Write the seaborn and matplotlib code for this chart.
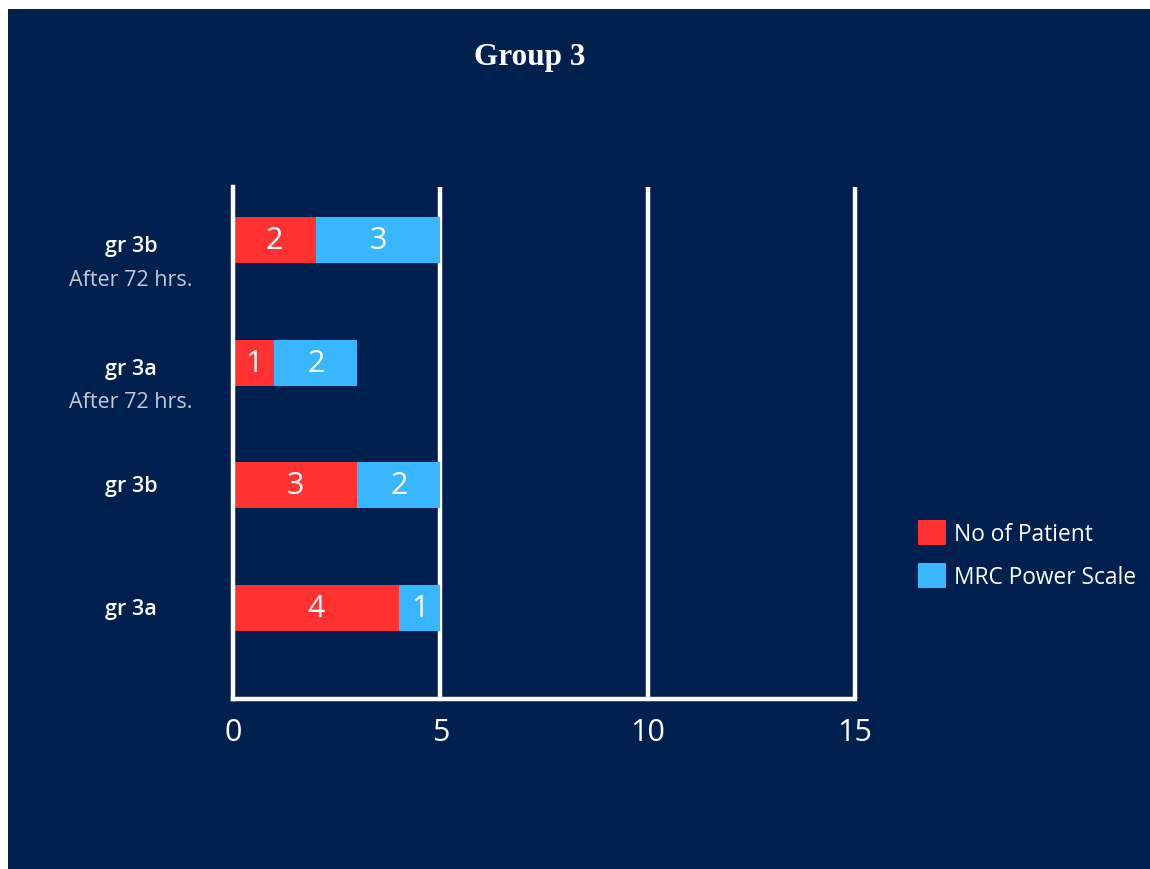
import matplotlib
matplotlib.use("Agg")
import matplotlib.pyplot as plt
from matplotlib.patches import Patch, Rectangle
import matplotlib.transforms as mtransforms
import pandas as pd
import seaborn as sns

# Data (top to bottom)
groups = ["gr 3b", "gr 3a", "gr 3b", "gr 3a"]
subtitles = ["After 72 hrs.", "After 72 hrs.", "", ""]
patients = [2, 1, 3, 4]
mrc_scale = [3, 2, 2, 1]
series_names = ["No of Patient", "MRC Power Scale"]
x_ticks = [0, 5, 10, 15]
title = "Group 3"

NAVY = "#00214f"
RED = "#ff3131"
BLUE = "#38b6ff"
WHITE = "#ffffff"
SUBTLE = "#c3c9d6"

sns.set_theme(style="white")
plt.rcParams["font.family"] = ["Open Sans", "DejaVu Sans"]

rows = [f"row{i}" for i in range(len(groups))]
df = pd.DataFrame({
    "row": rows,
    "patients": patients,
    "total": [p + m for p, m in zip(patients, mrc_scale)],
})

fig = plt.figure(figsize=(11.5, 8.7), dpi=100, facecolor="white")
# navy panel with thin white margin at the top and left
fig.patches.append(Rectangle((8 / 1150, 0), 1, 1 - 10 / 870,
                             transform=fig.transFigure, facecolor=NAVY,
                             edgecolor="none", zorder=-5))

ax = fig.add_axes([233 / 1150, 1 - 700 / 870, 622 / 1150, 512 / 870])
ax.set_facecolor(NAVY)
ax.patch.set_alpha(0)

# stacked horizontal bars: total in blue, patients in red on top
bar_kw = dict(orient="h", width=0.375, saturation=1, ax=ax,
              linewidth=0, edgecolor="none")
sns.barplot(data=df, x="total", y="row", order=rows, color=BLUE,
            zorder=2, **bar_kw)
sns.barplot(data=df, x="patients", y="row", order=rows, color=RED,
            zorder=3, **bar_kw)

ax.set_xlim(0, 15)
ax.set_ylim(3.74, -0.43)
ax.set_xlabel("")
ax.set_ylabel("")

# value labels centred in each segment
for i, (p, m) in enumerate(zip(patients, mrc_scale)):
    ax.text(p / 2, i, str(p), ha="center", va="center", color=WHITE,
            fontsize=22, zorder=5)
    ax.text(p + m / 2, i, str(m), ha="center", va="center", color=WHITE,
            fontsize=22, zorder=5)

# grid lines at 5, 10, 15
for xv in x_ticks[1:]:
    ax.axvline(xv, color=WHITE, lw=3.2, zorder=1, solid_capstyle="butt",
               clip_on=False)

for side in ["top", "right"]:
    ax.spines[side].set_visible(False)
for side in ["left", "bottom"]:
    ax.spines[side].set_color(WHITE)
    ax.spines[side].set_linewidth(3.2)
    ax.spines[side].set_zorder(4)

ax.set_xticks(x_ticks)
ax.set_xticklabels([str(t) for t in x_ticks])
ax.tick_params(axis="x", length=0, pad=13, labelsize=22, labelcolor=WHITE)
ax.set_yticks([])

# category labels
trans = mtransforms.blended_transform_factory(fig.transFigure, ax.transData)
for i, (g, s) in enumerate(zip(groups, subtitles)):
    if s:
        ax.text(131 / 1150, i + 0.05, g, transform=trans, ha="center",
                va="center", color=WHITE, fontsize=15.5, fontweight="semibold")
        ax.text(131 / 1150, i + 0.32, s, transform=trans, ha="center",
                va="center", color=SUBTLE, fontsize=15.5)
    else:
        ax.text(131 / 1150, i, g, transform=trans, ha="center",
                va="center", color=WHITE, fontsize=15.5, fontweight="semibold")

fig.text(530 / 1150, 1 - 57 / 870, title, ha="center", va="center",
         color=WHITE, fontsize=22.5, fontweight="bold",
         family=["Liberation Serif", "DejaVu Serif"])

handles = [Patch(facecolor=RED, edgecolor="none"),
           Patch(facecolor=BLUE, edgecolor="none")]
fig.legend(handles, series_names, loc="upper left",
           bbox_to_anchor=(902 / 1150, 1 - 505 / 870), frameon=False,
           labelcolor=WHITE, fontsize=16.4, handlelength=1.23,
           handleheight=1.3, handletextpad=0.35, labelspacing=0.75,
           borderaxespad=0.3)

fig.savefig("out.png", dpi=100, facecolor=fig.get_facecolor())
